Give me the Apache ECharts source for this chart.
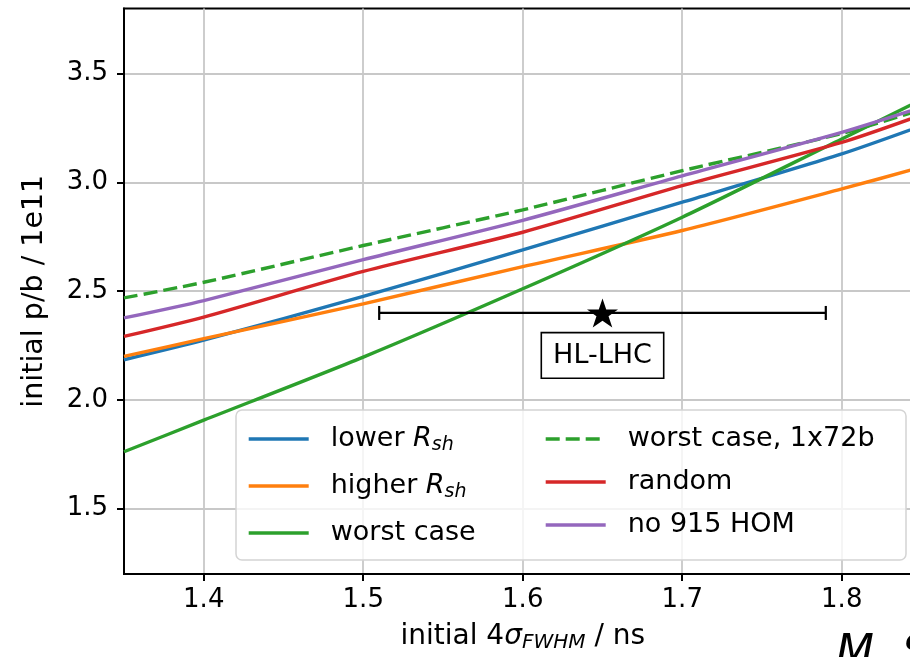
<!DOCTYPE html>
<html>
<head>
<meta charset="utf-8">
<script src="https://cdn.jsdelivr.net/npm/echarts@6/dist/echarts.min.js"></script>
<style>
  html, body { margin: 0; padding: 0; background: #fff; }
  #chart { width: 910px; height: 657px; }
</style>
</head>
<body>
<div id="chart"></div>
<script>
// Bunch length (initial 4σ FWHM, ns) at which each intensity value is given
const bunchLength = [1.35, 1.40, 1.50, 1.60, 1.70, 1.80, 1.85];

// Initial intensity (p/b, units of 1e11) per scenario
const lowerRsh     = [2.185, 2.275, 2.476, 2.690, 2.909, 3.131, 3.260];
const higherRsh    = [2.200, 2.282, 2.442, 2.613, 2.779, 2.970, 3.070];
const worstCase    = [1.762, 1.907, 2.197, 2.511, 2.840, 3.200, 3.380];
const worstCase72b = [2.469, 2.541, 2.710, 2.874, 3.054, 3.225, 3.335];
const randomCase   = [2.292, 2.381, 2.591, 2.771, 2.985, 3.184, 3.310];
const no915HOM     = [2.377, 2.457, 2.645, 2.826, 3.030, 3.230, 3.345];

// HL-LHC design point with its bunch-length range
const hlLhcPoint = [1.65, 2.40];
const hlLhcRange = [1.51, 1.79];
const hlLhcLabel = 'HL-LHC';

// Axis ticks
const xTicks = [1.4, 1.5, 1.6, 1.7, 1.8];
const yTicks = [1.5, 2.0, 2.5, 3.0, 3.5];

const FONT = 'DejaVu Sans';
const LINE_W = 3.4;
const pair = arr => bunchLength.map((x, i) => [x, arr[i]]);

const scenarios = [
  { name: 'lower Rsh',          data: lowerRsh,     color: '#1f77b4', dash: 'solid' },
  { name: 'higher Rsh',         data: higherRsh,    color: '#ff7f0e', dash: 'solid' },
  { name: 'worst case',         data: worstCase,    color: '#2ca02c', dash: 'solid' },
  { name: 'worst case, 1x72b',  data: worstCase72b, color: '#2ca02c', dash: [14, 6] },
  { name: 'random',             data: randomCase,   color: '#d62728', dash: 'solid' },
  { name: 'no 915 HOM',         data: no915HOM,     color: '#9467bd', dash: 'solid' }
];

const legendRich = {
  r: { fontFamily: FONT, fontSize: 27, fontStyle: 'italic', lineHeight: 32, color: '#000' },
  s: { fontFamily: FONT, fontSize: 19, fontStyle: 'italic', lineHeight: 14, verticalAlign: 'bottom', color: '#000' }
};
const legendFormatter = name => name.replace('Rsh', '{r|R}{s|sh}');

const legendBase = {
  orient: 'vertical',
  padding: 0,
  itemWidth: 60,
  itemHeight: 14,
  formatter: legendFormatter,
  // only the line of the legend icon is shown, no marker
  itemStyle: { opacity: 0, borderWidth: 0 },
  lineStyle: { width: LINE_W },
  textStyle: {
    fontFamily: FONT, fontSize: 27, color: '#000', lineHeight: 32,
    padding: [0, 0, 0, 17], rich: legendRich
  },
  selectedMode: false,
  z: 6
};

const lineSeries = scenarios.map(s => ({
  type: 'line',
  name: s.name,
  data: pair(s.data),
  smooth: 0.25,
  symbol: 'none',
  lineStyle: { color: s.color, width: LINE_W, type: s.dash },
  itemStyle: { color: s.color },
  z: 2
}));

const starPath = 'path://M50,0 L61.8,35.3 L99,35.3 L69.1,57.1 L80.9,92.7 L50,70.9 L19.1,92.7 L30.9,57.1 L1,35.3 L38.2,35.3 Z';

const chart = echarts.init(document.getElementById('chart'), null, { renderer: 'canvas' });

chart.setOption({
  animation: false,
  backgroundColor: '#fff',
  grid: {
    left: 124, top: 8.4, width: 797.5, height: 565.6,
    show: true, borderColor: '#000', borderWidth: 2,
    backgroundColor: 'transparent',
    containLabel: false, outerBoundsMode: 'none'
  },
  xAxis: {
    type: 'value', min: 1.35, max: 1.85,
    axisLine: { show: true, onZero: false, lineStyle: { color: '#000', width: 2 } },
    axisTick: { show: true, inside: false, length: 7, customValues: xTicks, lineStyle: { color: '#000', width: 2 } },
    axisLabel: {
      customValues: xTicks, formatter: v => v.toFixed(1),
      fontFamily: FONT, fontSize: 26, color: '#000', margin: 13
    },
    splitLine: { show: true, lineStyle: { color: '#c8c8c8', width: 1.8 } },
    name: 'initial 4{i|σ}{s|FWHM} / ns',
    nameLocation: 'middle', nameGap: 47,
    nameTextStyle: {
      fontFamily: FONT, fontSize: 28, color: '#000', lineHeight: 32,
      rich: {
        i: { fontFamily: FONT, fontSize: 28, fontStyle: 'italic', lineHeight: 32, color: '#000' },
        s: { fontFamily: FONT, fontSize: 20, fontStyle: 'italic', lineHeight: 14, verticalAlign: 'bottom', color: '#000' }
      }
    }
  },
  yAxis: {
    type: 'value', min: 1.2, max: 3.8,
    axisLine: { show: true, onZero: false, lineStyle: { color: '#000', width: 2 } },
    axisTick: { show: true, inside: false, length: 7, customValues: yTicks, lineStyle: { color: '#000', width: 2 } },
    axisLabel: {
      customValues: yTicks, formatter: v => v.toFixed(1),
      fontFamily: FONT, fontSize: 26, color: '#000', margin: 16
    },
    splitLine: { show: true, lineStyle: { color: '#c8c8c8', width: 1.8 } },
    name: 'initial p/b / 1e11',
    nameLocation: 'middle', nameGap: 75,
    nameTextStyle: { fontFamily: FONT, fontSize: 28.5, color: '#000' }
  },
  legend: [
    Object.assign({}, legendBase, {
      left: 247, top: 423, itemGap: 15,
      data: scenarios.slice(0, 3).map(s => s.name)
    }),
    Object.assign({}, legendBase, {
      left: 544, top: 423, itemGap: 11,
      data: scenarios.slice(3).map(s => s.name)
    })
  ],
  graphic: [
    {
      type: 'rect', z: 3,
      shape: { x: 236, y: 410, width: 670, height: 150, r: 6 },
      style: { fill: 'rgba(255,255,255,0.8)', stroke: '#d4d4d4', lineWidth: 1.5 }
    },
    {
      type: 'text', z: 3, left: 836, top: 633,
      style: { text: 'M. S', font: 'italic 44px "DejaVu Sans"', fill: '#000' }
    }
  ],
  series: lineSeries.concat([
    {
      type: 'custom',
      name: 'HL-LHC range',
      data: [[hlLhcRange[0], hlLhcRange[1], hlLhcPoint[1]]],
      encode: { x: [0, 1], y: 2 },
      z: 5,
      renderItem: (params, api) => {
        const a = api.coord([api.value(0), api.value(2)]);
        const b = api.coord([api.value(1), api.value(2)]);
        const cap = 7;
        const st = { stroke: '#000', lineWidth: 2.2 };
        return {
          type: 'group',
          children: [
            { type: 'line', shape: { x1: a[0], y1: a[1], x2: b[0], y2: b[1] }, style: st },
            { type: 'line', shape: { x1: a[0], y1: a[1] - cap, x2: a[0], y2: a[1] + cap }, style: st },
            { type: 'line', shape: { x1: b[0], y1: b[1] - cap, x2: b[0], y2: b[1] + cap }, style: st }
          ]
        };
      }
    },
    {
      type: 'scatter',
      name: 'HL-LHC',
      data: [hlLhcPoint],
      symbol: starPath,
      symbolSize: [31, 29],
      itemStyle: { color: '#000', opacity: 1 },
      z: 6,
      label: {
        show: true, position: 'bottom', distance: 6,
        formatter: hlLhcLabel,
        fontFamily: FONT, fontSize: 27, color: '#000', opacity: 1,
        backgroundColor: '#fff', borderColor: '#000', borderWidth: 1.6,
        padding: [9, 11, 8, 11]
      }
    }
  ])
});
</script>
</body>
</html>
